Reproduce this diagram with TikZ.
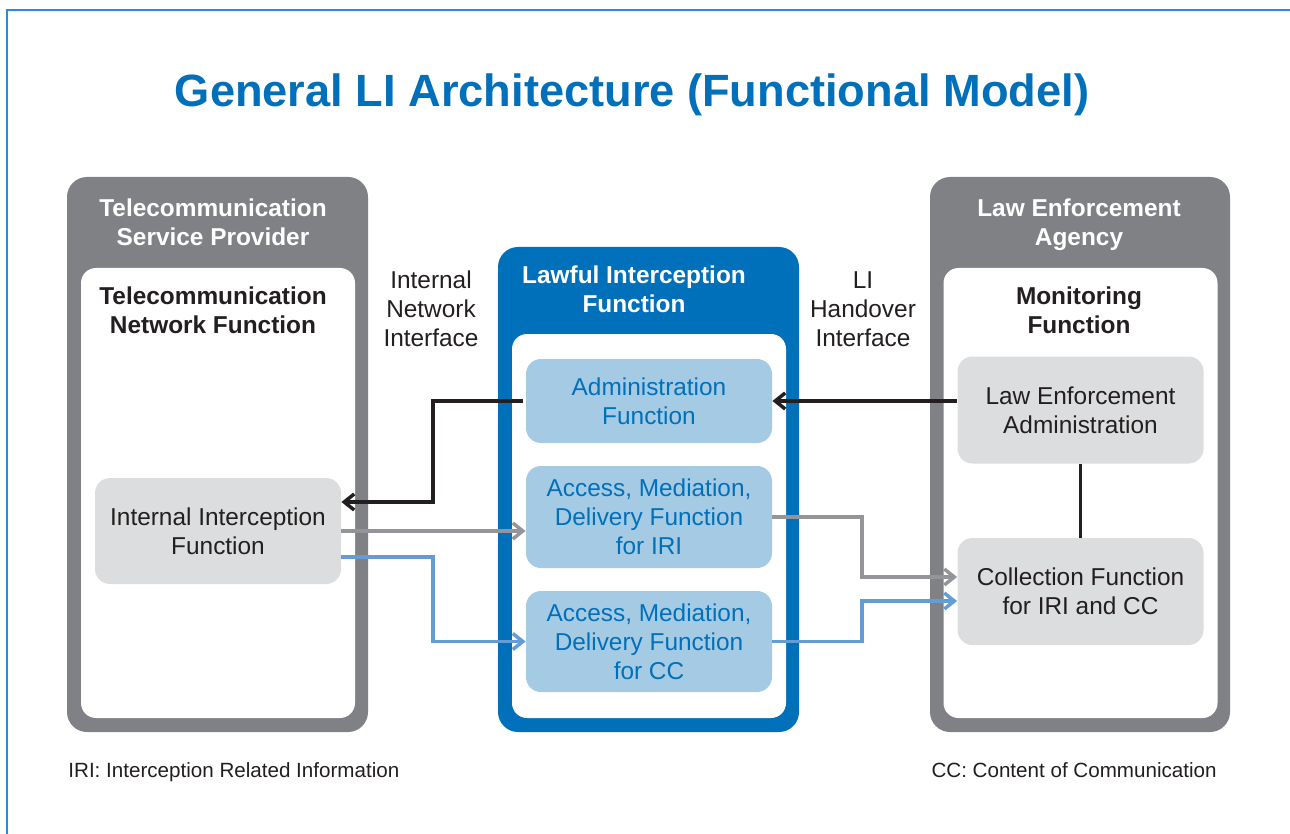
\documentclass[tikz,border=0pt]{standalone}
\usepackage{fontspec}
\setmainfont{Liberation Sans}
\usetikzlibrary{arrows.meta}
\definecolor{panelgray}{RGB}{128,129,132}
\definecolor{boxgray}{RGB}{220,221,222}
\definecolor{liblue}{RGB}{0,112,186}
\definecolor{lightblue}{RGB}{165,203,228}
\definecolor{txtdark}{RGB}{35,31,32}
\definecolor{arrgray}{RGB}{147,149,152}
\definecolor{arrblue}{RGB}{100,156,214}
\definecolor{framecol}{RGB}{40,140,215}
\newcommand\mybody{\fontsize{12.2}{14.5}\selectfont}
\newcommand\myfoot{\fontsize{10.3}{12}\selectfont}
\begin{document}
\begin{tikzpicture}[x=0.5pt,y=-0.5pt,
  panel/.style={fill=panelgray,rounded corners=10pt,inner sep=0pt,minimum width=150.5pt,minimum height=277.5pt},
  innerbox/.style={fill=white,rounded corners=7.5pt,inner sep=0pt,minimum width=137pt},
  gbox/.style={fill=boxgray,rounded corners=7.5pt,inner sep=0pt,text=txtdark,align=center,font=\mybody,minimum width=123pt},
  bbox/.style={fill=lightblue,rounded corners=7.5pt,inner sep=0pt,text=liblue,align=center,font=\mybody,minimum width=123pt},
  ptitle/.style={text=white,align=center,font=\mybody\bfseries,inner sep=0pt},
  ititle/.style={text=txtdark,align=center,font=\mybody\bfseries,inner sep=0pt},
  iflabel/.style={text=txtdark,align=center,font=\mybody,inner sep=0pt},
  foot/.style={text=txtdark,font=\myfoot,inner sep=0pt},
  conn/.style={line width=1.75pt},
  tip/.style={-{Straight Barb[length=5pt,width=8pt]}},
  blk/.style={conn,draw=txtdark},
  gry/.style={conn,draw=arrgray},
  blu/.style={conn,draw=arrblue}
]
\useasboundingbox (0,0) rectangle (1290,834);
\fill[white] (0,0) rectangle (1290,834);
\draw[framecol,line width=1pt] (1300,10) -- (7,10) -- (7,850);

% title
\node[anchor=base,text=liblue,font=\fontsize{22.6}{27}\selectfont\bfseries,inner sep=0pt] (title) at (632,107) {General LI Architecture (Functional Model)};

% left panel
\node[panel] (tspO) at (217.5,454.5) {};
\node[innerbox,minimum height=225pt] (tspI) at (218,493) {};
\node[ptitle] (tspT) at (213,222) {Telecommunication\\Service Provider};
\node[ititle] (tnfT) at (213,310) {Telecommunication\\Network Function};
\node[gbox,minimum height=53pt] (iif) at (218,531) {Internal Interception\\Function};

% middle panel
\node[panel,fill=liblue,minimum height=242.5pt] (lifO) at (648.5,489.5) {};
\node[innerbox,minimum height=192pt] (lifI) at (649,526) {};
\node[ptitle] (lifT) at (634,289) {Lawful Interception\\Function};
\node[bbox,minimum height=42pt] (adm) at (649,401) {Administration\\Function};
\node[bbox,minimum height=51pt] (amdI) at (649,517) {Access, Mediation,\\Delivery Function\\for IRI};
\node[bbox,minimum height=50.5pt] (amdC) at (649,641.5) {Access, Mediation,\\Delivery Function\\for CC};

% right panel
\node[panel,minimum width=150pt] (leaO) at (1080,454.5) {};
\node[innerbox,minimum width=137pt,minimum height=225pt] (leaI) at (1080.5,493) {};
\node[ptitle] (leaT) at (1079,225) {Law Enforcement\\Agency};
\node[ititle] (monT) at (1079,310) {Monitoring\\Function};
\node[gbox,minimum width=123pt,minimum height=53.5pt] (lea) at (1080.5,410) {Law Enforcement\\Administration};
\node[gbox,minimum width=123pt,minimum height=53.5pt] (col) at (1080.5,591.5) {Collection Function\\for IRI and CC};

% interface labels
\node[iflabel] (inI) at (431,309) {Internal\\Network\\Interface};
\node[iflabel] (hoI) at (863,309) {LI\\Handover\\Interface};

% footnotes
\node[foot,anchor=base west] (fn1) at (68,777) {IRI: Interception Related Information};
\node[foot,anchor=base east] (fn2) at (1217,777) {CC: Content of Communication};

% connectors
\coordinate (k1) at (433,502);
\coordinate (k2) at (433,557);
\coordinate (k3) at (862,577);
\coordinate (k4) at (862,601);
\draw[blk,tip] ([xshift=-1.5pt]adm.west) -| (k1) -- (iif.east |- k1);
\draw[gry,tip] (iif.east) -- (amdI.west |- iif.east);
\draw[blu,tip] (iif.east |- k2) -- (k2) |- (amdC.west);
\draw[blk,tip] (lea.west |- adm.east) -- (adm.east);
\draw[gry,tip] (amdI.east) -| (k3) -- (col.west |- k3);
\draw[blu,tip] (amdC.east) -| (k4) -- (col.west |- k4);
\draw[blk] (lea.south) -- (col.north);
\end{tikzpicture}
\end{document}
